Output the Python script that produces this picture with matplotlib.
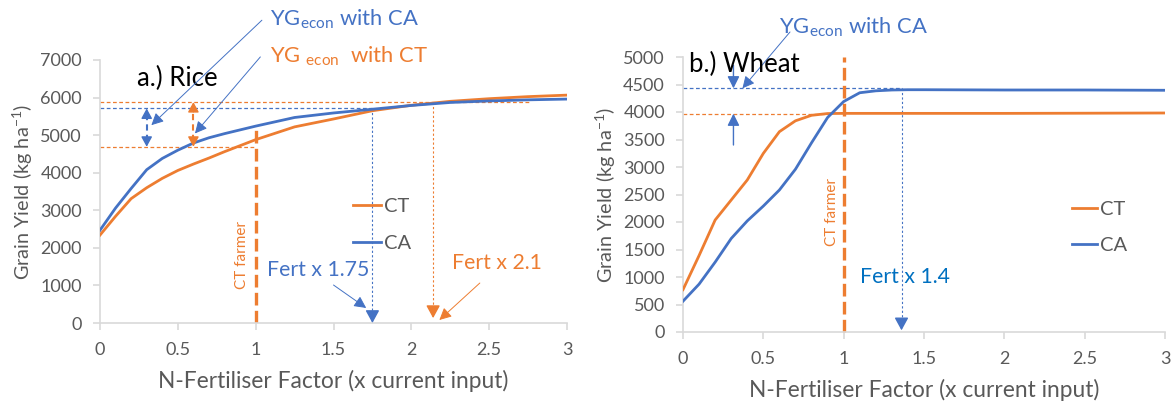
import matplotlib
matplotlib.use("Agg")
import matplotlib.pyplot as plt

plt.rcParams['font.family'] = ['Lato', 'DejaVu Sans']
plt.rcParams['mathtext.fontset'] = 'custom'
plt.rcParams['mathtext.rm'] = 'Lato'
plt.rcParams['mathtext.it'] = 'Lato:italic'

ORANGE = '#ED7D31'
BLUE = '#4472C4'
BLUE2 = '#0070C0'
GRAY = '#595959'
SPINE = '#D9D9D9'

# ---------------- data ----------------
rice_x = [0, 0.1, 0.2, 0.3, 0.4, 0.5, 0.6, 0.7, 0.8, 0.9, 1.0, 1.25, 1.5, 1.75, 2.0, 2.25, 2.5, 2.75, 3.0]
rice_ct = [2340, 2840, 3310, 3600, 3850, 4060, 4230, 4390, 4560, 4720, 4880, 5220, 5430, 5650, 5795, 5900, 5970, 6025, 6065]
rice_ca = [2470, 3060, 3580, 4080, 4380, 4600, 4790, 4930, 5040, 5140, 5240, 5470, 5590, 5690, 5790, 5870, 5910, 5940, 5960]

wheat_x = [0, 0.1, 0.2, 0.3, 0.4, 0.5, 0.6, 0.7, 0.8, 0.9, 1.0, 1.1, 1.2, 1.3, 1.4, 1.5, 2.0, 2.5, 3.0]
wheat_ct = [770, 1390, 2036, 2400, 2764, 3248, 3642, 3840, 3940, 3972, 3975, 3975, 3975, 3975, 3975, 3975, 3975, 3978, 3982]
wheat_ca = [560, 870, 1270, 1700, 2020, 2290, 2582, 2960, 3440, 3900, 4190, 4350, 4385, 4400, 4405, 4405, 4400, 4400, 4395]

x_ticks = [0, 0.5, 1, 1.5, 2, 2.5, 3]
x_ticklabels = ['0', '0.5', '1', '1.5', '2', '2.5', '3']
rice_yticks = [0, 1000, 2000, 3000, 4000, 5000, 6000, 7000]
wheat_yticks = [0, 500, 1000, 1500, 2000, 2500, 3000, 3500, 4000, 4500, 5000]

# key levels
rice_farmer_x = 1.0
rice_ca_opt_x, rice_ca_opt_y = 1.75, 5710
rice_ct_opt_x, rice_ct_opt_y = 2.14, 5880
rice_base_y = 4690
rice_ca_at_farmer = 5250

wheat_farmer_x = 1.0
wheat_ca_opt_x, wheat_ca_opt_y = 1.36, 4430
wheat_ct_level = 3970

W, H = 1171, 403
fig = plt.figure(figsize=(W / 100, H / 100), dpi=100)


def px_box(l, t, r, b):
    return [l / W, 1 - b / H, (r - l) / W, (b - t) / H]


def style(ax, yticks, ylim):
    ax.set_xlim(0, 3)
    ax.set_ylim(*ylim)
    ax.set_xticks(x_ticks)
    ax.set_xticklabels(x_ticklabels)
    ax.set_yticks(yticks)
    for s in ['top', 'right']:
        ax.spines[s].set_visible(False)
    for s in ['left', 'bottom']:
        ax.spines[s].set_color(SPINE)
        ax.spines[s].set_linewidth(1.2)
    ax.tick_params(axis='both', colors=SPINE, labelcolor=GRAY, labelsize=13, length=5, width=1.2)
    ax.tick_params(axis='x', pad=9)
    ax.tick_params(axis='y', pad=8)
    ax.set_xlabel('N-Fertiliser Factor (x current input)', fontsize=16.4, color=GRAY, labelpad=8)
    ax.set_ylabel(r'Grain Yield (kg ha$^{\mathregular{-1}}$)', fontsize=14.3, color=GRAY, labelpad=4)


def head(ax, xy, direction, color, size=11):
    # arrowhead only, pointing in direction ('down'/'up')
    dy = 7 if direction == 'down' else -7
    ax.annotate('', xy=xy, xytext=(0, dy), textcoords='offset points',
                arrowprops=dict(arrowstyle='-|>,head_length=0.55,head_width=0.3', color=color,
                                lw=1, shrinkA=0, shrinkB=0, mutation_scale=size),
                annotation_clip=False)


def pointer(ax, src, dst, color, lw=0.7):
    ax.annotate('', xy=dst, xytext=src,
                arrowprops=dict(arrowstyle='-|>,head_length=0.6,head_width=0.3', color=color,
                                lw=lw, shrinkA=0, shrinkB=0, mutation_scale=12),
                annotation_clip=False)


# ---------------- Rice ----------------
ax1 = fig.add_axes(px_box(100, 60, 567, 323))
style(ax1, rice_yticks, (0, 7000))
ax1.plot(rice_x, rice_ct, color=ORANGE, lw=2, label='CT', zorder=3)
ax1.plot(rice_x, rice_ca, color=BLUE, lw=2, label='CA', zorder=3)

# horizontal reference lines
ax1.plot([0, 2.76], [rice_ct_opt_y] * 2, color=ORANGE, lw=0.9, ls=(0, (3, 2)))
ax1.plot([0, rice_ca_opt_x], [rice_ca_opt_y] * 2, color=BLUE, lw=0.9, ls=(0, (3, 2)))
ax1.plot([0, rice_farmer_x], [rice_base_y] * 2, color=ORANGE, lw=0.9, ls=(0, (3, 2)))

# farmer line
ax1.plot([rice_farmer_x] * 2, [0, rice_ca_at_farmer], color=ORANGE, lw=2.4, ls=(0, (3.8, 1.6)))
ax1.text(0.91, 1800, 'CT farmer', rotation=90, color=ORANGE, fontsize=11, ha='center', va='center')

# optimum verticals
ax1.plot([rice_ca_opt_x] * 2, [rice_ca_opt_y, 150], color=BLUE, lw=0.8, ls=(0, (2, 2)))
head(ax1, (rice_ca_opt_x, 0), 'down', BLUE, 14)
ax1.plot([rice_ct_opt_x] * 2, [rice_ct_opt_y, 250], color=ORANGE, lw=0.8, ls=(0, (2, 2)))
head(ax1, (rice_ct_opt_x, 130), 'down', ORANGE, 14)

# gap arrows
ax1.plot([0.3, 0.3], [rice_base_y + 150, rice_ca_opt_y - 150], color=BLUE, lw=1.5, ls=(0, (3, 2)))
head(ax1, (0.3, rice_ca_opt_y), 'up', BLUE)
head(ax1, (0.3, rice_base_y), 'down', BLUE)
ax1.plot([0.6, 0.6], [rice_base_y + 150, rice_ct_opt_y - 150], color=ORANGE, lw=1.5, ls=(0, (3, 2)))
head(ax1, (0.6, rice_ct_opt_y), 'up', ORANGE)
head(ax1, (0.6, rice_base_y), 'down', ORANGE)

# annotations
ax1.text(0.24, 6520, 'a.) Rice', fontsize=18.5, color='black', va='center')
ax1.text(1.09, 8080, r'YG$_{\mathregular{econ}}$ with CA', fontsize=15.8, color=BLUE, va='center')
ax1.text(1.09, 7100, r'YG $_{\mathregular{econ}}$  with CT', fontsize=15.8, color=ORANGE, va='center')
pointer(ax1, (1.04, 8059), (0.33, 5266), BLUE)
pointer(ax1, (1.03, 7082), (0.61, 5045), BLUE)
ax1.text(1.07, 1420, 'Fert x 1.75', fontsize=15.3, color=BLUE, va='center')
ax1.text(2.26, 1600, 'Fert x 2.1', fontsize=15.3, color=ORANGE, va='center')
pointer(ax1, (1.50, 1011), (1.71, 400), BLUE)
pointer(ax1, (2.44, 1064), (2.18, 80), ORANGE)

ax1.legend(loc='upper left', bbox_to_anchor=(0.542, 0.475), frameon=False, fontsize=14.5,
           handlelength=1.4, handletextpad=0.12, labelspacing=1.0, borderpad=0,
           borderaxespad=0, labelcolor=GRAY)

# ---------------- Wheat ----------------
ax2 = fig.add_axes(px_box(683, 57, 1165, 332))
style(ax2, wheat_yticks, (0, 5000))
ax2.plot(wheat_x, wheat_ct, color=ORANGE, lw=2, label='CT', zorder=3)
ax2.plot(wheat_x, wheat_ca, color=BLUE, lw=2, label='CA', zorder=3)

ax2.plot([0, wheat_ca_opt_x], [wheat_ca_opt_y] * 2, color=BLUE, lw=0.9, ls=(0, (3, 2)))
ax2.plot([0, 0.92], [wheat_ct_level] * 2, color=ORANGE, lw=0.9, ls=(0, (3, 2)))
ax2.plot([wheat_farmer_x] * 2, [0, 5000], color=ORANGE, lw=2.4, ls=(0, (3.8, 1.6)), clip_on=False)
ax2.text(0.925, 2180, 'CT farmer', rotation=90, color=ORANGE, fontsize=11, ha='center', va='center')

ax2.plot([wheat_ca_opt_x] * 2, [wheat_ca_opt_y, 150], color=BLUE, lw=0.8, ls=(0, (2, 2)))
head(ax2, (wheat_ca_opt_x, 30), 'down', BLUE, 14)

pointer(ax2, (0.314, 4850), (0.314, wheat_ca_opt_y), BLUE, lw=1)
pointer(ax2, (0.314, 3400), (0.314, wheat_ct_level), BLUE, lw=1)
pointer(ax2, (0.666, 5455), (0.37, wheat_ca_opt_y), BLUE)

ax2.text(0.04, 4870, 'b.) Wheat', fontsize=18.5, color='black', va='center')
ax2.text(0.6, 5540, r'YG$_{\mathregular{econ}}$ with CA', fontsize=15.8, color=BLUE, va='center')
ax2.text(1.10, 1000, 'Fert x 1.4', fontsize=15.3, color=BLUE2, va='center')

ax2.legend(loc='upper left', bbox_to_anchor=(0.807, 0.476), frameon=False, fontsize=14.5,
           handlelength=1.25, handletextpad=0.12, labelspacing=0.95, borderpad=0,
           borderaxespad=0, labelcolor=GRAY)

fig.savefig('out.png', dpi=100)
